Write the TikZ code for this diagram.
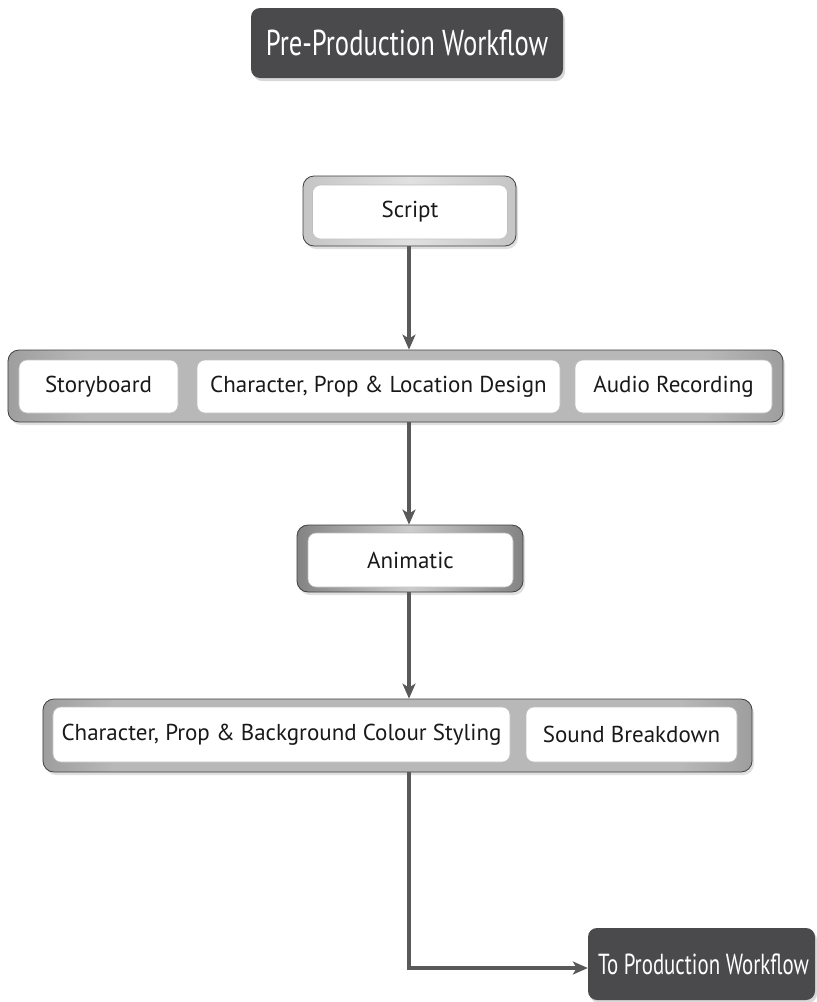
\documentclass[tikz,border=0pt]{standalone}
\usepackage{fontspec}
\setmainfont{PT Sans}
\usetikzlibrary{shadows,arrows.meta}
\definecolor{boxdark}{HTML}{4A4A4C}
\definecolor{linegray}{HTML}{595959}
\pgfdeclarehorizontalshading{framedark}{100bp}{color(0bp)=(black!82); color(8bp)=(black!72); color(30bp)=(black!28); color(70bp)=(black!28); color(92bp)=(black!72); color(100bp)=(black!82)}
\pgfdeclarehorizontalshading{framelight}{100bp}{color(0bp)=(black!40); color(20bp)=(black!25); color(50bp)=(black!12); color(80bp)=(black!25); color(100bp)=(black!45)}
\pgfdeclarehorizontalshading{framemid}{100bp}{color(0bp)=(black!82); color(15bp)=(black!60); color(50bp)=(black!20); color(85bp)=(black!60); color(100bp)=(black!82)}
\tikzset{
  darkbox/.style={rectangle, rounded corners=9bp, fill=boxdark, text=white, inner sep=0pt,
    drop shadow={opacity=0.3, shadow xshift=2bp, shadow yshift=-3bp}},
  frame/.style={rectangle, rounded corners=11bp, draw=black!75, line width=0.8bp, inner sep=0pt,
    drop shadow={opacity=0.25, shadow xshift=2bp, shadow yshift=-3bp}},
  inbox/.style={rectangle, rounded corners=8bp, fill=white, draw=black!25, line width=0.6bp, inner sep=0pt,
    font=\fontsize{23bp}{27bp}\selectfont, text=black!90},
  conn/.style={draw=linegray, line width=4bp},
  tip/.style={-{Stealth[length=15bp,width=13bp,inset=4bp]}},
  condensed/.style={font=\fontsize{36bp}{40bp}\selectfont}
}
\begin{document}
\begin{tikzpicture}[x=1bp,y=-1bp]
\useasboundingbox (0,0) rectangle (817,1002);
\fill[white] (0,0) rectangle (817,1002);

% title
\node[darkbox, minimum width=312bp, minimum height=70bp, condensed] (title) at (407,43)
  {\scalebox{0.74}[1]{Pre-Production Workflow}};

% script
\node[frame, shading=framelight, minimum width=213bp, minimum height=70bp] (scriptf) at (409.5,211) {};
\node[inbox, minimum width=195bp, minimum height=54bp] (script) at (410,212) {Script};

% row 1
\node[frame, shading=framedark, minimum width=775bp, minimum height=72bp] (row1) at (395.5,386) {};
\node[inbox, minimum width=159bp, minimum height=53bp] (story) at (98.5,386.5) {Storyboard};
\node[inbox, minimum width=363bp, minimum height=53bp] (design) at (378.5,386.5) {Character, Prop \& Location Design};
\node[inbox, minimum width=197bp, minimum height=53bp] (audio) at (673.5,386.5) {Audio Recording};

% animatic
\node[frame, shading=framemid, minimum width=226bp, minimum height=67bp] (anif) at (410,558.5) {};
\node[inbox, minimum width=205bp, minimum height=54bp] (ani) at (410.5,560) {Animatic};

% row 2
\node[frame, shading=framedark, minimum width=709bp, minimum height=73bp] (row2) at (397.5,735.5) {};
\node[inbox, minimum width=457bp, minimum height=55bp] (styling) at (281.5,734.5) {Character, Prop \& Background Colour Styling};
\node[inbox, minimum width=211bp, minimum height=55bp] (sound) at (631.5,734.5) {Sound Breakdown};

% final
\node[darkbox, minimum width=227bp, minimum height=72bp, font=\fontsize{29bp}{33bp}\selectfont] (final) at (701.5,964)
  {\hspace*{4bp}\scalebox{0.72}[1]{To Production Workflow}};

% connectors
\coordinate (cx) at (409,0);
\draw[conn, tip] (scriptf.south -| cx) -- (row1.north -| cx);
\draw[conn, tip] (row1.south -| cx) -- (anif.north -| cx);
\draw[conn, tip] (anif.south -| cx) -- (row2.north -| cx);
\coordinate (turn) at (409,968);
\draw[conn, tip, line join=miter] (row2.south -| cx) -- (turn) -- (turn -| final.west);
\end{tikzpicture}
\end{document}
